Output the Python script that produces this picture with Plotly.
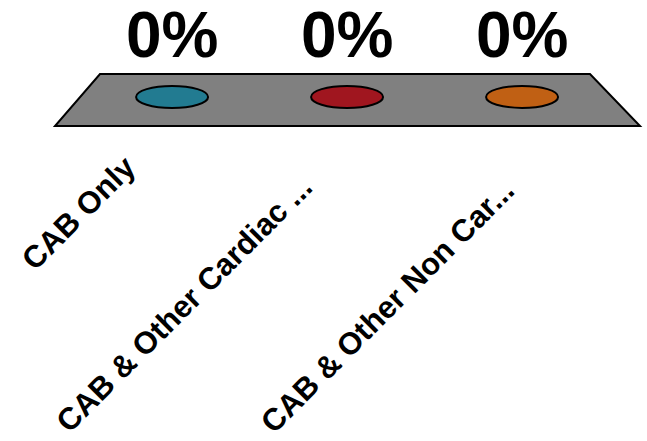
import plotly.graph_objects as go

categories = ["CAB Only", "CAB & Other Cardiac ...", "CAB & Other Non Car..."]
values = [0, 0, 0]
colors = ["#227B91", "#A0161F", "#C06014"]

# per-label pixel offsets of the rotated category labels (style only)
label_dx = [-29, -27, 0]
label_dy = [-22, -42, -45]

FONT = "Liberation Sans, Arial, sans-serif"
idx = list(range(len(categories)))

fig = go.Figure()
fig.add_trace(go.Scatter(x=idx, y=values, mode="markers",
                         marker=dict(size=1, color="rgba(0,0,0,0)"),
                         hoverinfo="skip", showlegend=False))

shapes = [dict(type="path", xref="paper", yref="paper",
               path="M 0 0 L 1 0 L 0.9145 0.4127 L 0.0769 0.4127 Z",
               fillcolor="#808080", line=dict(color="black", width=2), layer="below")]
for i, v in enumerate(values):
    shapes.append(dict(type="circle", xref="x", yref="y",
                       xsizemode="pixel", ysizemode="pixel",
                       xanchor=idx[i], yanchor=v,
                       x0=-36, x1=36, y0=-11, y1=11,
                       fillcolor=colors[i], line=dict(color="black", width=2)))

annotations = []
for i, v in enumerate(values):
    annotations.append(dict(x=idx[i], y=v, xref="x", yref="y", text=f"{v:.0%}",
                            showarrow=False, yanchor="middle", yshift=62,
                            font=dict(family=FONT, size=64, color="black", weight="bold")))
for i, c in enumerate(categories):
    annotations.append(dict(x=idx[i], y=0, xref="x", yref="paper", text=c,
                            showarrow=False, textangle=-45, xanchor="right", yanchor="top",
                            xshift=label_dx[i], yshift=label_dy[i], borderpad=0,
                            font=dict(family=FONT, size=31, color="black", weight="bold")))

fig.update_layout(
    width=647, height=441,
    margin=dict(l=55, r=7, t=0, b=315),
    paper_bgcolor="white", plot_bgcolor="rgba(0,0,0,0)",
    shapes=shapes, annotations=annotations,
    xaxis=dict(range=[-0.669, 2.674], showticklabels=False, showgrid=False,
               zeroline=False, showline=False, ticks="", fixedrange=True),
    yaxis=dict(range=[-0.3, 1.0], visible=False, fixedrange=True),
)
fig.write_html("out.html")
